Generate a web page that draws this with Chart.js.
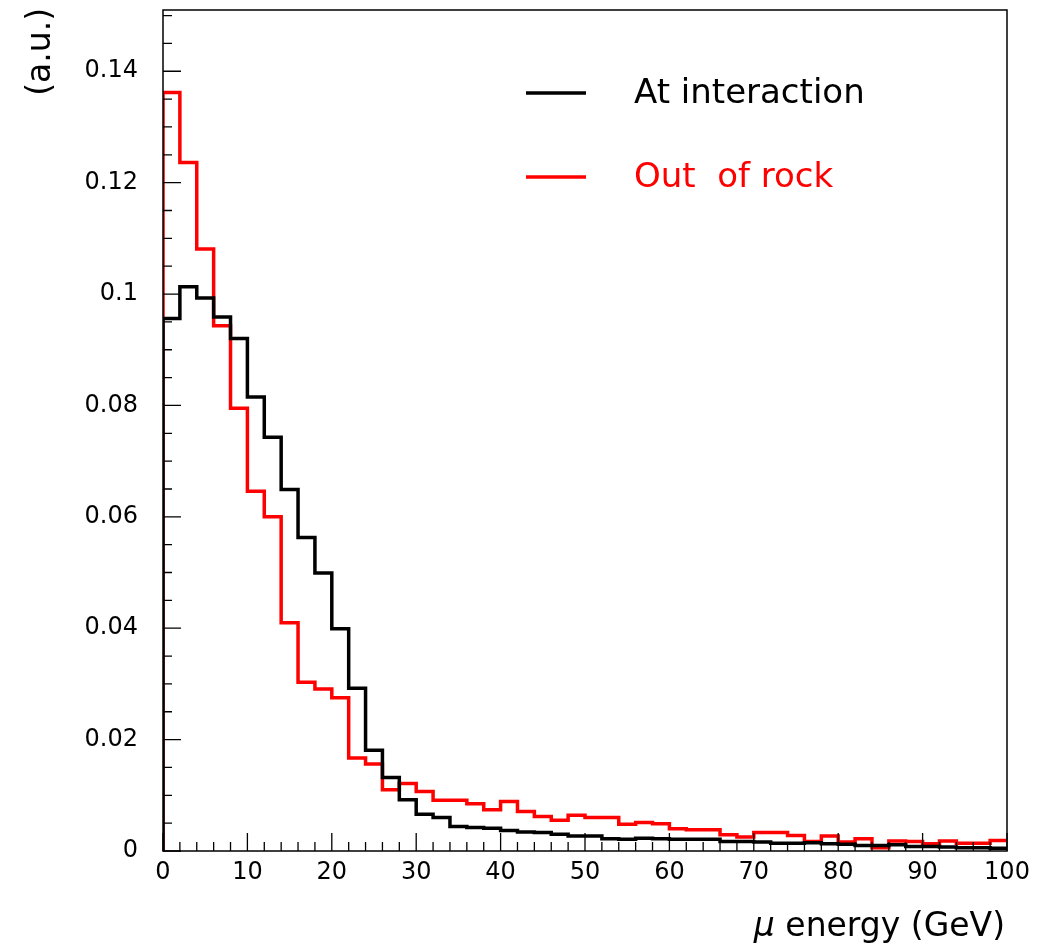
<!DOCTYPE html>
<html>
<head>
<meta charset="utf-8">
<script src="https://cdn.jsdelivr.net/npm/chart.js@4/dist/chart.umd.min.js"></script>
<style>
  html, body { margin: 0; padding: 0; background: #fff; }
  #wrap { width: 1039px; height: 952px; }
</style>
</head>
<body>
<div id="wrap"><canvas id="chart" width="1039" height="952"></canvas></div>
<script>
// histogram bins: 0..100 GeV, width 2
const binWidth = 2;
const xTicks = [0, 10, 20, 30, 40, 50, 60, 70, 80, 90, 100];
const yTicks = [0, 0.02, 0.04, 0.06, 0.08, 0.1, 0.12, 0.14];

const atInteraction = [
  0.0956, 0.1013, 0.0993, 0.0959, 0.0920, 0.0815, 0.0743, 0.0649, 0.0563, 0.0499,
  0.0399, 0.0292, 0.0181, 0.0132, 0.0092, 0.0066, 0.0060, 0.0044, 0.0042, 0.0041,
  0.0037, 0.0034, 0.0033, 0.0030, 0.0027, 0.0027, 0.0022, 0.0021, 0.0023, 0.0022,
  0.0021, 0.0021, 0.0021, 0.0017, 0.0017, 0.0016, 0.0014, 0.0014, 0.0015, 0.0013,
  0.0012, 0.0010, 0.0010, 0.0011, 0.0008, 0.0008, 0.0007, 0.0006, 0.0006, 0.0005
];

const outOfRock = [
  0.1362, 0.1236, 0.1081, 0.0943, 0.0795, 0.0646, 0.0600, 0.0410, 0.0303, 0.0291,
  0.0275, 0.0167, 0.0156, 0.0110, 0.0121, 0.0107, 0.0091, 0.0091, 0.0085, 0.0074,
  0.0089, 0.0071, 0.0062, 0.0055, 0.0064, 0.0060, 0.0060, 0.0048, 0.0051, 0.0049,
  0.0040, 0.0038, 0.0038, 0.0029, 0.0025, 0.0033, 0.0033, 0.0028, 0.0017, 0.0027,
  0.0016, 0.0022, 0.0006, 0.0018, 0.0017, 0.0013, 0.0018, 0.0014, 0.0014, 0.0019
];

// bin contents -> points at each bin's right edge; 'after' steps go up/down first, then across
function histPoints(vals) {
  const pts = [{ x: 0, y: 0 }];
  vals.forEach((v, i) => pts.push({ x: (i + 1) * binWidth, y: v }));
  return pts;
}

const FONT = 'DejaVu Sans';

// frame, inside ticks, legend and axis titles
const rootStyle = {
  id: 'rootStyle',
  afterDatasetsDraw(chart) {
    const ctx = chart.ctx;
    const a = chart.chartArea;
    const xs = chart.scales.x, ys = chart.scales.y;
    ctx.save();
    ctx.strokeStyle = '#000';
    ctx.lineWidth = 1.5;
    ctx.strokeRect(a.left, a.top, a.right - a.left, a.bottom - a.top);

    ctx.lineWidth = 1.3;
    ctx.beginPath();
    for (let v = 0; v <= 100.001; v += 2) {
      const px = xs.getPixelForValue(v);
      const len = Math.abs(v % 10) < 1e-6 ? 18 : 9;
      ctx.moveTo(px, a.bottom);
      ctx.lineTo(px, a.bottom - len);
    }
    for (let k = 0; k * 0.005 <= ys.max + 1e-9; k++) {
      const py = ys.getPixelForValue(k * 0.005);
      const len = k % 4 === 0 ? 18 : 9;
      ctx.moveTo(a.left, py);
      ctx.lineTo(a.left + len, py);
    }
    ctx.stroke();

    // legend
    const items = [
      { text: 'At interaction', color: '#000', y: 93 },
      { text: 'Out  of rock', color: '#ff0000', y: 177 }
    ];
    ctx.font = '34px "' + FONT + '"';
    ctx.textBaseline = 'middle';
    ctx.textAlign = 'left';
    items.forEach(it => {
      ctx.strokeStyle = it.color;
      ctx.lineWidth = 3.5;
      ctx.beginPath();
      ctx.moveTo(526, it.y);
      ctx.lineTo(586, it.y);
      ctx.stroke();
      ctx.fillStyle = it.color;
      ctx.fillText(it.text, 634, it.y + 1);
    });

    // x title, mu in italic
    ctx.fillStyle = '#000';
    ctx.textBaseline = 'alphabetic';
    ctx.textAlign = 'right';
    ctx.font = '33px "' + FONT + '"';
    const rest = ' energy (GeV)';
    ctx.fillText(rest, a.right - 2, 936);
    const restW = ctx.measureText(rest).width;
    ctx.font = 'italic 33px "' + FONT + '"';
    ctx.fillText('\u03bc', a.right - 2 - restW, 936);

    // y title
    ctx.font = '33px "' + FONT + '"';
    ctx.translate(50, a.top - 2);
    ctx.rotate(-Math.PI / 2);
    ctx.textAlign = 'right';
    ctx.fillText('(a.u.)', 0, 0);
    ctx.restore();
  }
};

const fmt = v => (Math.round(v * 1000) / 1000).toString();

new Chart(document.getElementById('chart'), {
  type: 'line',
  data: {
    datasets: [
      {
        label: 'At interaction',
        data: histPoints(atInteraction),
        borderColor: '#000',
        borderWidth: 3.5,
        stepped: 'after',
        pointRadius: 0,
        fill: false
      },
      {
        label: 'Out of rock',
        data: histPoints(outOfRock),
        borderColor: '#ff0000',
        borderWidth: 3.5,
        stepped: 'after',
        pointRadius: 0,
        fill: false
      }
    ]
  },
  options: {
    responsive: false,
    animation: false,
    layout: { padding: { left: 0, right: 32, top: 10, bottom: 0 } },
    plugins: {
      legend: { display: false },
      tooltip: { enabled: false }
    },
    scales: {
      x: {
        type: 'linear',
        min: 0,
        max: 100,
        afterFit: s => { s.height = 101; s.paddingLeft = 0; s.paddingRight = 0; },
        afterBuildTicks: s => { s.ticks = xTicks.map(v => ({ value: v })); },
        grid: { display: false, drawTicks: false },
        border: { display: false },
        ticks: {
          color: '#000',
          font: { family: FONT, size: 24 },
          padding: 7,
          maxRotation: 0,
          autoSkip: false,
          callback: v => fmt(v)
        }
      },
      y: {
        type: 'linear',
        min: 0,
        max: 0.151,
        afterFit: s => { s.width = 163; s.paddingTop = 0; s.paddingBottom = 0; },
        afterBuildTicks: s => { s.ticks = yTicks.map(v => ({ value: v })); },
        grid: { display: false, drawTicks: false },
        border: { display: false },
        ticks: {
          color: '#000',
          font: { family: FONT, size: 24 },
          padding: 25,
          callback: v => fmt(v)
        }
      }
    }
  },
  plugins: [rootStyle]
});
</script>
</body>
</html>
